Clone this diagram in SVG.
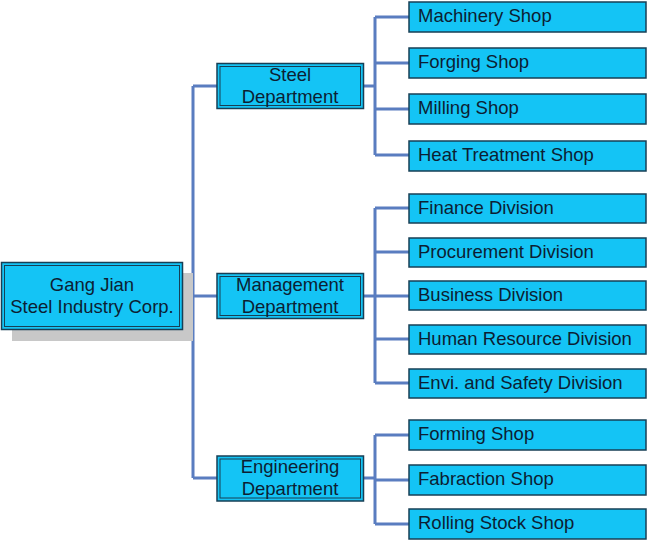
<svg xmlns="http://www.w3.org/2000/svg" width="648" height="559" viewBox="0 0 648 559">
<style>
.box{fill:#14C4F5;stroke:#173F55;stroke-width:1.5}
.inner{fill:none;stroke:#173F55;stroke-width:1}
.t{font-family:"Liberation Sans",Arial,sans-serif;font-size:18.5px;fill:#0C1E33}
.c{text-anchor:middle}
.ln{fill:none;stroke:#5A7DC0;stroke-width:3}
</style>
<rect width="648" height="559" fill="#ffffff"/>
<g id="connectors">
<path class="ln" d="M182,296 H193 M193,86 V478 M193,86 H217 M193,296 H217 M193,478 H217"/>
<path class="ln" stroke-width="4" d="M363,86 H375 M363,296 H375 M363,478 H375"/>
<path class="ln" d="M375,17 V155 M375,17 H409 M375,63 H409 M375,109 H409 M375,155 H409"/>
<path class="ln" d="M375,208 V383 M375,208 H409 M375,252 H409 M375,296 H409 M375,339 H409 M375,383 H409"/>
<path class="ln" d="M375,435 V524 M375,435 H409 M375,480 H409 M375,524 H409"/>
</g>
<g id="root">
<rect x="12" y="273" width="181" height="68" fill="#C8C8C8"/>
<rect class="box" x="1.5" y="262.5" width="181" height="67"/>
<rect class="inner" x="4.5" y="265.5" width="175" height="61"/>
<text class="t c" x="92" y="290.5">Gang Jian</text>
<text class="t c" x="92" y="312.5">Steel Industry Corp.</text>
</g>
<g id="steel-dept">
<rect class="box" x="217" y="63.5" width="146.5" height="45"/>
<rect class="inner" x="220" y="66.5" width="140.5" height="39"/>
<text class="t c" x="290" y="80.5">Steel</text>
<text class="t c" x="290" y="102.5">Department</text>
</g>
<g id="management-dept">
<rect class="box" x="217" y="273.5" width="146.5" height="45"/>
<rect class="inner" x="220" y="276.5" width="140.5" height="39"/>
<text class="t c" x="290" y="290.5">Management</text>
<text class="t c" x="290" y="312.5">Department</text>
</g>
<g id="engineering-dept">
<rect class="box" x="217" y="456" width="146.5" height="45"/>
<rect class="inner" x="220" y="459" width="140.5" height="39"/>
<text class="t c" x="290" y="473">Engineering</text>
<text class="t c" x="290" y="495">Department</text>
</g>
<g id="machinery-shop"><rect class="box" x="409" y="2" width="237" height="30"/><text class="t" x="418" y="22">Machinery Shop</text></g>
<g id="forging-shop"><rect class="box" x="409" y="48" width="237" height="30"/><text class="t" x="418" y="68">Forging Shop</text></g>
<g id="milling-shop"><rect class="box" x="409" y="94" width="237" height="30"/><text class="t" x="418" y="114">Milling Shop</text></g>
<g id="heat-treatment-shop"><rect class="box" x="409" y="141" width="237" height="30"/><text class="t" x="418" y="161">Heat Treatment Shop</text></g>
<g id="finance-division"><rect class="box" x="409" y="194" width="237" height="29"/><text class="t" x="418" y="213.5">Finance Division</text></g>
<g id="procurement-division"><rect class="box" x="409" y="238" width="237" height="29"/><text class="t" x="418" y="257.5">Procurement Division</text></g>
<g id="business-division"><rect class="box" x="409" y="281" width="237" height="29"/><text class="t" x="418" y="300.5">Business Division</text></g>
<g id="human-resource-division"><rect class="box" x="409" y="325" width="237" height="29"/><text class="t" x="418" y="344.5">Human Resource Division</text></g>
<g id="envi-safety-division"><rect class="box" x="409" y="369" width="237" height="29"/><text class="t" x="418" y="388.5">Envi. and Safety Division</text></g>
<g id="forming-shop"><rect class="box" x="409" y="420" width="237" height="30"/><text class="t" x="418" y="440">Forming Shop</text></g>
<g id="fabraction-shop"><rect class="box" x="409" y="465" width="237" height="30"/><text class="t" x="418" y="485">Fabraction Shop</text></g>
<g id="rolling-stock-shop"><rect class="box" x="409" y="509" width="237" height="30"/><text class="t" x="418" y="529">Rolling Stock Shop</text></g>
</svg>
